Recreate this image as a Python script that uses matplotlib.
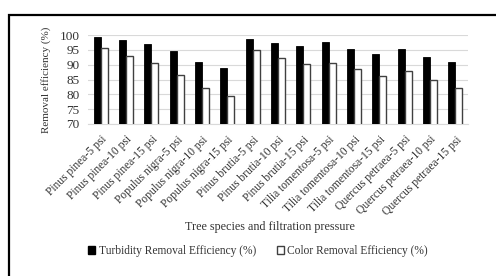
import matplotlib.pyplot as plt
import matplotlib.patches as mpatches
import numpy as np

categories = ["Pinus pinea-5 psi", "Pinus pinea-10 psi", "Pinus pinea-15 psi",
              "Populus nigra-5 psi", "Populus nigra-10 psi", "Populus nigra-15 psi",
              "Pinus brutia-5 psi", "Pinus brutia-10 psi", "Pinus brutia-15 psi",
              "Tilia tomentosa-5 psi", "Tilia tomentosa-10 psi", "Tilia tomentosa-15 psi",
              "Quercus petraea-5 psi", "Quercus petraea-10 psi", "Quercus petraea-15 psi"]
turbidity = [99.2, 98.2, 97.1, 94.6, 90.9, 88.8, 98.8, 97.4, 96.2, 97.5, 95.2, 93.6, 95.4, 92.7, 90.9]
color_eff = [95.5, 92.9, 90.4, 86.6, 82.2, 79.5, 94.9, 92.1, 90.1, 90.6, 88.6, 86.3, 87.9, 84.7, 82.0]
yticks = [70, 75, 80, 85, 90, 95, 100]

plt.rcParams['font.family'] = ['Liberation Serif', 'DejaVu Serif']

fig = plt.figure(figsize=(4.96, 2.76), dpi=100)
W, H = 496, 276
# axes in pixel terms: x 88..468, y 35..124
ax = fig.add_axes([88 / W, 1 - 124 / H, (468 - 88) / W, (124 - 35) / H])

x = np.arange(len(categories))
bw = 0.27
ax.bar(x - bw / 2, turbidity, bw, color='black', edgecolor='black', linewidth=0.6,
       zorder=3, label='Turbidity Removal Efficiency (%)')
ax.bar(x + bw / 2, color_eff, bw, color='white', edgecolor='#404040', linewidth=1.0,
       zorder=3, label='Color Removal Efficiency (%)')

ax.set_ylim(70, 100)
ax.set_xlim(-0.5, len(categories) - 0.5)
ax.set_yticks(yticks)
ax.set_yticklabels([str(v) for v in yticks], fontsize=9.5, color='#333333')
ax.grid(axis='y', color='#d9d9d9', linewidth=0.8, zorder=0)
ax.set_xticks(x)
ax.set_xticklabels(categories, rotation=45, ha='right', rotation_mode='anchor',
                   fontsize=8.3, color='#333333')
ax.tick_params(axis='x', length=0, pad=7)
ax.tick_params(axis='y', length=0, pad=6)
for s in ['top', 'right', 'left']:
    ax.spines[s].set_visible(False)
ax.spines['bottom'].set_color('#d9d9d9')
ax.spines['bottom'].set_linewidth(0.8)

ax.set_ylabel('Removal efficiency (%)', fontsize=8, color='#333333', labelpad=6)
fig.text(270 / W, 1 - 227 / H, 'Tree species and filtration pressure',
         fontsize=8.7, color='#333333', ha='center', va='center')

h1 = mpatches.Patch(facecolor='black', edgecolor='black', label='Turbidity Removal Efficiency (%)')
h2 = mpatches.Patch(facecolor='white', edgecolor='#404040', label='Color Removal Efficiency (%)')
fig.legend(handles=[h1, h2], loc='center', bbox_to_anchor=(258 / W, 1 - 251 / H),
           ncol=2, frameon=False, fontsize=8.3, handlelength=0.6, handleheight=0.6,
           handletextpad=0.3, columnspacing=1.8, labelcolor='#333333')

# outer frame of the figure panel
frame = mpatches.Rectangle((8.5 / W, -0.1), 1.2, 1 - 14.5 / H + 0.1,
                           transform=fig.transFigure, fill=False,
                           edgecolor='black', linewidth=1.6)
fig.add_artist(frame)

fig.savefig('out.png', dpi=100, facecolor='white')
